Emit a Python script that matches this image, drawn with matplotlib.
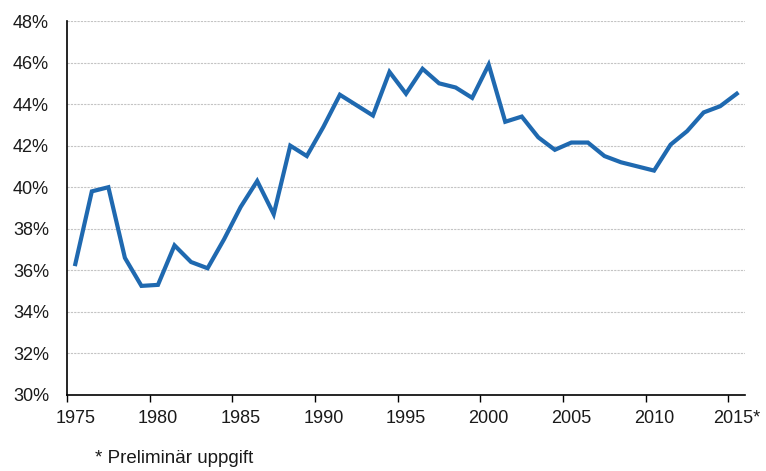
import numpy as np
import matplotlib.pyplot as plt
from matplotlib.ticker import FixedLocator, NullFormatter

plt.rcParams['font.family'] = ['Liberation Sans', 'DejaVu Sans']

# andel i procent, 1975-2015 (2015 preliminär)
years = list(range(1975, 2016))
values = [36.3, 39.8, 40.0, 36.6, 35.25, 35.3, 37.2, 36.4, 36.1, 37.5,
          39.05, 40.3, 38.7, 42.0, 41.5, 42.9, 44.45, 43.95, 43.45, 45.55,
          44.5, 45.7, 45.0, 44.8, 44.3, 45.9, 43.15, 43.4, 42.4, 41.8,
          42.15, 42.15, 41.5, 41.2, 41.0, 40.8, 42.05, 42.7, 43.6, 43.9,
          44.5]
label_years = [1975, 1980, 1985, 1990, 1995, 2000, 2005, 2010, 2015]
label_texts = ['1975', '1980', '1985', '1990', '1995', '2000', '2005', '2010', '2015*']
y_ticks = [30, 32, 34, 36, 38, 40, 42, 44, 46, 48]

fig = plt.figure(figsize=(7.66, 4.71), dpi=100)
ax = fig.add_axes([0.0875, 0.1614, 0.8851, 0.794])

ax.plot(years, values, color='#1f69b0', linewidth=3, solid_joinstyle='miter')

ax.set_xlim(years[0] - 0.5, years[-1] + 0.5)
ax.set_ylim(30, 48)

# tick marks at category edges, labels at category centres
ax.xaxis.set_major_locator(FixedLocator([y - 0.5 for y in label_years]))
ax.xaxis.set_major_formatter(NullFormatter())
ax.xaxis.set_minor_locator(FixedLocator(label_years))
ax.set_xticklabels(label_texts, minor=True)
ax.tick_params(axis='x', which='major', length=5, width=1, direction='out', color='black')
ax.tick_params(axis='x', which='minor', length=0, labelsize=13, pad=11, colors='#1a1a1a')

ax.set_yticks(y_ticks)
ax.set_yticklabels([f'{t}%' for t in y_ticks])
ax.tick_params(axis='y', length=0, labelsize=13, pad=13, colors='#1a1a1a')

ax.grid(axis='y', color='#c4c4c4', linestyle=(0, (2, 1)), linewidth=0.8)
ax.set_axisbelow(True)
for s in ['top', 'right']:
    ax.spines[s].set_visible(False)
for s in ['left', 'bottom']:
    ax.spines[s].set_color('black')
    ax.spines[s].set_linewidth(1.2)

fig.text(0.124, 0.017, '* Preliminär uppgift', fontsize=13.5, color='#1a1a1a')

fig.savefig('out.png', dpi=100)
